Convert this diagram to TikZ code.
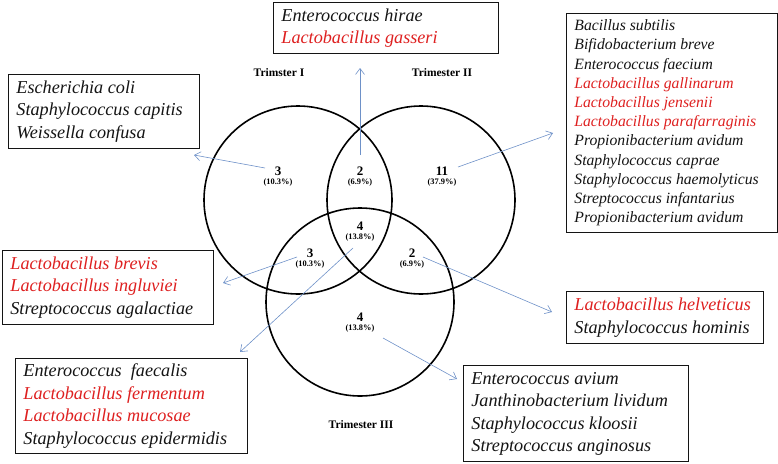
\documentclass[tikz,border=0pt]{standalone}
\usepackage{fontspec}
\setmainfont{Liberation Serif}
\usetikzlibrary{arrows.meta}
\definecolor{sp red}{RGB}{222,32,32}
\definecolor{arrowblue}{RGB}{110,145,200}
\definecolor{sp black}{RGB}{20,20,20}
\tikzset{
  ring/.style={draw=black, line width=1.6pt},
  listbox/.style={draw=sp black, line width=0.8pt, anchor=north west, inner xsep=8pt, inner ysep=0pt, font=\fontsize{18.2}{22.5}\selectfont\itshape, text=sp black},
  smallbox/.style={listbox, font=\fontsize{15.7}{19.2}\selectfont\itshape},
  count/.style={align=center, font=\fontsize{13}{10}\selectfont\bfseries, inner sep=0pt},
  trim/.style={font=\fontsize{11.5}{13}\selectfont\bfseries, inner sep=0pt},
  pointer/.style={draw=arrowblue, line width=0.6pt, -{Straight Barb[length=6pt,width=9pt]}}
}
\newcommand{\pct}[1]{\\[-1pt]{\fontsize{8.4}{9}\selectfont #1}}
\newcommand{\rs}[1]{\textcolor{sp red}{#1}}
\newcommand{\lines}[2]{\makebox[#1][l]{\begin{tabular}{@{}l@{}}#2\end{tabular}}}
\begin{document}
\begin{tikzpicture}[x=1pt,y=-1pt]
\useasboundingbox (0,0) rectangle (778,463);
% circles
\draw[ring] (298,200) circle (94);
\draw[ring] (421,200) circle (94);
\draw[ring] (360,302) circle (94);
% trimester labels
\node[trim] (t1) at (279,73) {Trimster I};
\node[trim] (t2) at (442,73) {Trimester II};
\node[trim] (t3) at (361,425) {Trimester III};
% counts
\node[count] (c1) at (278,177) {3\pct{(10.3\%)}};
\node[count] (c12) at (360,177) {2\pct{(6.9\%)}};
\node[count] (c2) at (442,177) {11\pct{(37.9\%)}};
\node[count] (c123) at (360,232) {4\pct{(13.8\%)}};
\node[count] (c13) at (310,259) {3\pct{(10.3\%)}};
\node[count] (c23) at (412,259) {2\pct{(6.9\%)}};
\node[count] (c3) at (360,323) {4\pct{(13.8\%)}};
% boxes
\node[listbox, minimum width=225pt, minimum height=51pt] (bTop) at (273,2)
  {\lines{209pt}{Enterococcus hirae\\\rs{Lactobacillus gasseri}}};
\node[listbox, minimum width=191pt, minimum height=74pt] (bI) at (8,74)
  {\lines{175pt}{Escherichia coli\\Staphylococcus capitis\\Weissella confusa}};
\node[smallbox, minimum width=211pt, minimum height=219pt] (bII) at (566,13)
  {\lines{195pt}{Bacillus subtilis\\Bifidobacterium breve\\Enterococcus faecium\\\rs{Lactobacillus gallinarum}\\\rs{Lactobacillus jensenii}\\\rs{Lactobacillus parafarraginis}\\Propionibacterium avidum\\Staphylococcus caprae\\Staphylococcus haemolyticus\\Streptococcus infantarius\\Propionibacterium avidum}};
\node[listbox, minimum width=211pt, minimum height=74pt] (bIIII) at (2,250)
  {\lines{195pt}{\rs{Lactobacillus brevis}\\\rs{Lactobacillus ingluviei}\\Streptococcus agalactiae}};
\node[listbox, minimum width=232pt, minimum height=95pt] (bAll) at (15,358)
  {\lines{216pt}{Enterococcus\ \ faecalis\\\rs{Lactobacillus fermentum}\\\rs{Lactobacillus mucosae}\\Staphylococcus epidermidis}};
\node[listbox, minimum width=197pt, minimum height=52pt] (bIIIII) at (566,291)
  {\lines{181pt}{\rs{Lactobacillus helveticus}\\Staphylococcus hominis}};
\node[listbox, minimum width=225pt, minimum height=96pt] (bIII) at (463,365)
  {\lines{209pt}{Enterococcus avium\\Janthinobacterium lividum\\Staphylococcus kloosii\\Streptococcus anginosus}};
% pointer coordinates
\coordinate (s12) at (360,155);  \coordinate (e12) at (360,68);
\coordinate (s1) at (265,168);   \coordinate (e1) at (194,155);
\coordinate (s2) at (458,167);   \coordinate (e2) at (553,133);
\coordinate (s13) at (297,257);  \coordinate (e13) at (223,283);
\coordinate (s123) at (353,248); \coordinate (e123) at (240,352);
\coordinate (s23) at (423,257);  \coordinate (e23) at (552,312);
\coordinate (s3) at (383,338);   \coordinate (e3) at (457,379);
\draw[pointer] (s12) -- (e12);
\draw[pointer] (s1) -- (e1);
\draw[pointer] (s2) -- (e2);
\draw[pointer] (s13) -- (e13);
\draw[pointer] (s123) -- (e123);
\draw[pointer] (s23) -- (e23);
\draw[pointer] (s3) -- (e3);
\end{tikzpicture}
\end{document}
